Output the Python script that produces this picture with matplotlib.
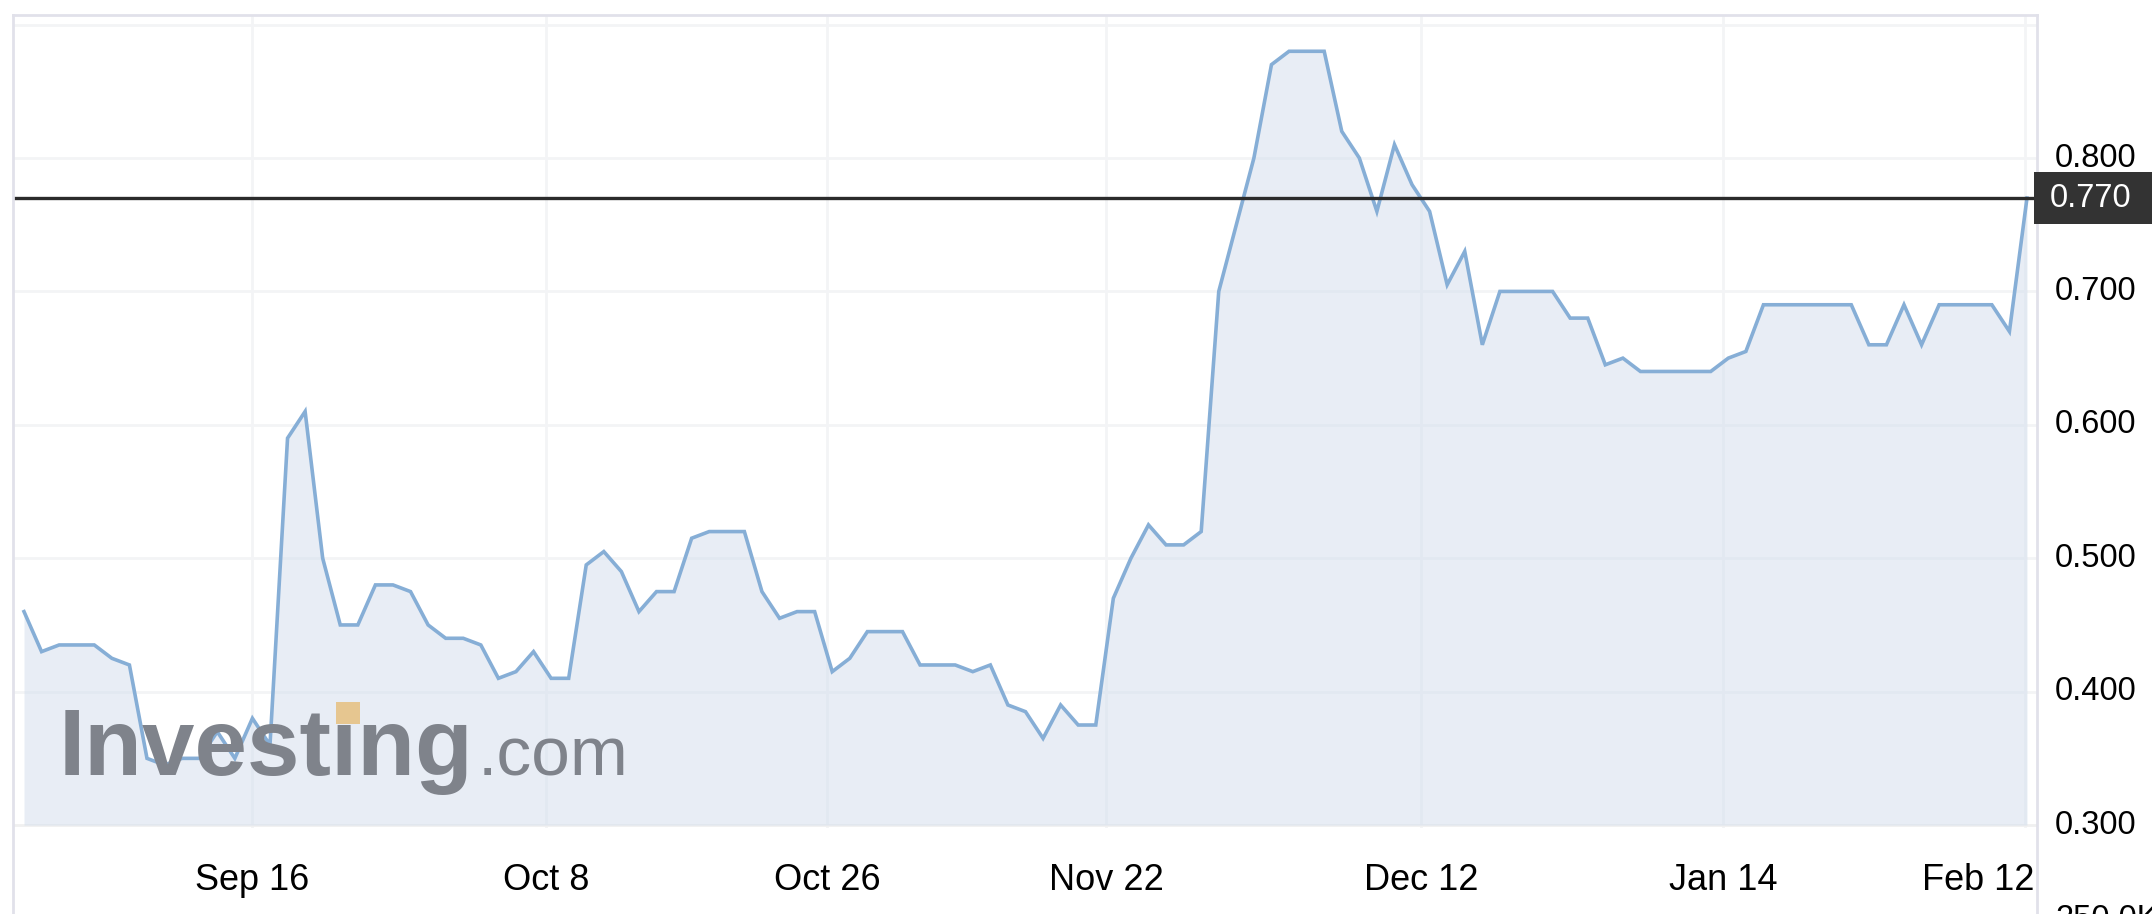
import matplotlib
matplotlib.use("Agg")
import matplotlib.pyplot as plt
import matplotlib.transforms as mtransforms
from matplotlib.patches import Rectangle
from matplotlib.lines import Line2D

plt.rcParams['font.family'] = ['Liberation Sans', 'DejaVu Sans']

# daily closing prices
prices = [0.46, 0.43, 0.435, 0.435, 0.435, 0.425, 0.42, 0.35, 0.345, 0.35,
          0.35, 0.37, 0.35, 0.38, 0.36, 0.59, 0.61, 0.50, 0.45, 0.45,
          0.48, 0.48, 0.475, 0.45, 0.44, 0.44, 0.435, 0.41, 0.415, 0.43,
          0.41, 0.41, 0.495, 0.505, 0.49, 0.46, 0.475, 0.475, 0.515, 0.52,
          0.52, 0.52, 0.475, 0.455, 0.46, 0.46, 0.415, 0.425, 0.445, 0.445,
          0.445, 0.42, 0.42, 0.42, 0.415, 0.42, 0.39, 0.385, 0.365, 0.39,
          0.375, 0.375, 0.47, 0.50, 0.525, 0.51, 0.51, 0.52, 0.70, 0.75,
          0.80, 0.87, 0.88, 0.88, 0.88, 0.82, 0.80, 0.76, 0.81, 0.78,
          0.76, 0.705, 0.73, 0.66, 0.70, 0.70, 0.70, 0.70, 0.68, 0.68,
          0.645, 0.65, 0.64, 0.64, 0.64, 0.64, 0.64, 0.65, 0.655, 0.69,
          0.69, 0.69, 0.69, 0.69, 0.69, 0.66, 0.66, 0.69, 0.66, 0.69,
          0.69, 0.69, 0.69, 0.67, 0.77]
last_price = 0.77

date_labels = ['Sep 16', 'Oct 8', 'Oct 26', 'Nov 22', 'Dec 12', 'Jan 14', 'Feb 12']
date_pos = [13.0, 29.7, 45.7, 61.6, 79.5, 96.7, 113.9]
y_ticks = [0.3, 0.4, 0.5, 0.6, 0.7, 0.8]
y_grid = [0.4, 0.5, 0.6, 0.7, 0.8, 0.9]

W, H = 2152, 914
fig = plt.figure(figsize=(W / 100, H / 100), dpi=100)
fig.patch.set_facecolor('white')

# plot area in pixels: x 13..2037, y 15..828
ax = fig.add_axes([13 / W, 1 - 828 / H, (2037 - 13) / W, (828 - 15) / H])
ax.axis('off')
ax.set_xlim(-0.626, 114.57)
ax.set_ylim(0.2978, 0.9072)

x = list(range(len(prices)))

grid_col = '#f3f4f6'
for g in y_grid:
    ax.axhline(g, color=grid_col, lw=2, zorder=0)
for p in date_pos:
    ax.axvline(p, color=grid_col, lw=2, zorder=0)
ax.axhline(0.3, color='#f0f0f0', lw=2, zorder=0)

ax.fill_between(x, prices, 0.3, color='#d3deed', alpha=0.52, lw=0, zorder=1)

# watermark
fig.text(59 / W, 1 - 775 / H, 'Investing', fontsize=68, fontweight='bold',
         color='#7f838b', va='baseline', ha='left', zorder=2)
fig.text(478 / W, 1 - 775 / H, '.com', fontsize=50, color='#7f838b',
         va='baseline', ha='left', zorder=2)
fig.add_artist(Rectangle((336 / W, 1 - 724 / H), 24 / W, 22 / H,
                         transform=fig.transFigure, facecolor='#e6c690',
                         edgecolor='none', zorder=3))

ax.plot(x, prices, color='#86aed6', lw=2.6, zorder=4, solid_joinstyle='miter')
ax.axhline(last_price, color='#2b2b2b', lw=2.4, zorder=5)

# panel frame
frame_col = '#e1e1ea'
for xs, ys in [([13, 13], [15, H]), ([13, 2037], [15, 15]), ([2037, 2037], [15, H])]:
    fig.add_artist(Line2D([v / W for v in xs], [1 - v / H for v in ys],
                          transform=fig.transFigure, color=frame_col, lw=2))

# y labels on the right
tr_y = mtransforms.blended_transform_factory(fig.transFigure, ax.transData)
for t in y_ticks:
    ax.text(2055 / W, t, f'{t:.3f}', transform=tr_y, fontsize=23.5,
            color='black', va='center', ha='left', clip_on=False)

# last price marker
fig.add_artist(Rectangle((2034 / W, last_price - 0.0195), (W - 2034) / W, 0.039,
                         transform=tr_y, facecolor='#333333', edgecolor='none', zorder=6))
lbl = fig.text(2050 / W, last_price, f'{last_price:.3f}', transform=tr_y, fontsize=23.5,
               color='white', va='center', ha='left')
lbl.set_zorder(7)

# x labels
tr_x = mtransforms.blended_transform_factory(ax.transData, fig.transFigure)
for lab, p in zip(date_labels[:-1], date_pos[:-1]):
    ax.text(p, 1 - 880 / H, lab, transform=tr_x, fontsize=26, ha='center',
            va='center', clip_on=False)
fig.text(2035 / W, 1 - 880 / H, date_labels[-1], fontsize=26, ha='right', va='center')

# volume axis label cut off at the bottom edge (as in the original)
fig.text(2055 / W, 1 - 904 / H, '250.0K', fontsize=23.5, ha='left', va='top')

fig.savefig('out.png', dpi=100)
